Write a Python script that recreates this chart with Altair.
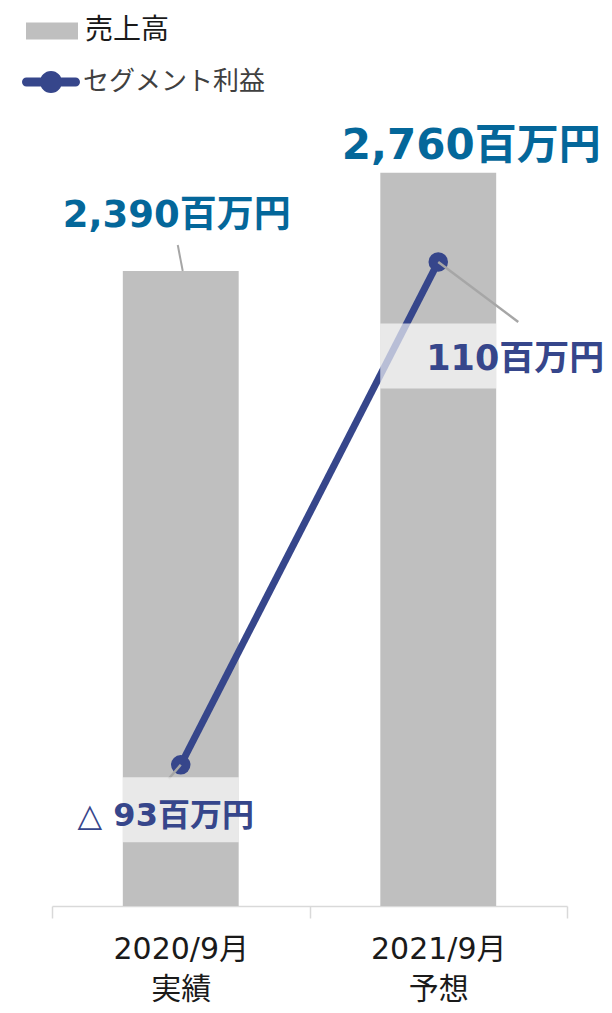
import altair as alt
import pandas as pd

categories = ["2020/9月\n実績", "2021/9月\n予想"]
sales = [2390, 2760]
profit = [-93, 110]
sales_name = "売上高"
profit_name = "セグメント利益"

df = pd.DataFrame({
    "cat": categories,
    "sales": sales,
    "profit": profit,
    "s1": [sales_name] * 2,
    "s2": [profit_name] * 2,
})

LATIN_JP = "DejaVu Sans, Noto Sans CJK JP"
JP = "Noto Sans CJK JP"
BAR_C = "#bfbfbf"
LINE_C = "#36468b"
SALES_TXT = "#04679a"

xenc = alt.X(
    "cat:N", sort=categories,
    scale=alt.Scale(paddingInner=0, paddingOuter=0),
    axis=alt.Axis(
        title=None, labelAngle=0, labelFont=LATIN_JP, labelFontSize=30,
        labelColor="#1a1a1a", labelLineHeight=40, labelPadding=16,
        labelExpr="split(datum.label, '\\n')",
        domainColor="#d9d9d9", domainWidth=1.5, tickColor="#d9d9d9",
        tickWidth=1.5, tickSize=12, tickBand="extent",
    ),
)
ys = alt.Scale(domain=[0, 3000], nice=False, zero=True)
yp = alt.Scale(domain=[-150, 171.75], nice=False, zero=False)

base = alt.Chart(df)

bar_path = "M-2,-0.654H2V0.654H-2Z"
line_path = ("M-1.69,-0.31H1.69A0.31,0.31 0 0,1 1.69,0.31H-1.69"
             "A0.31,0.31 0 0,1 -1.69,-0.31Z"
             "M-0.76,0A0.76,0.76 0 1,1 0.76,0A0.76,0.76 0 1,1 -0.76,0Z")

bars = base.mark_bar(width=alt.RelativeBandSize(0.45)).encode(
    x=xenc,
    y=alt.Y("sales:Q", scale=ys, axis=None),
    color=alt.Color("s1:N", scale=alt.Scale(domain=[sales_name], range=[BAR_C]),
                    legend=alt.Legend(orient="none", legendX=-14, legendY=-92,
                                      title=None, symbolType=bar_path, symbolSize=676,
                                      symbolStrokeWidth=0, labelFont=JP,
                                      labelFontSize=28, labelColor="#1a1a1a",
                                      labelOffset=19, labelLimit=400, padding=0)),
)

bar_leader = base.transform_filter(alt.datum.sales == sales[0]).mark_rule(
    color="#a6a6a6", strokeWidth=2, xOffset=-3, yOffset=-26, x2Offset=2, y2Offset=0
).encode(
    x=alt.X("cat:N", sort=categories, bandPosition=0.5),
    x2=alt.X2("cat:N", bandPosition=0.5),
    y=alt.Y("sales:Q", scale=ys, axis=None),
    y2="sales:Q",
)

line = base.mark_line(color=LINE_C, strokeWidth=7).encode(
    x=alt.X("cat:N", sort=categories),
    y=alt.Y("profit:Q", scale=yp, axis=None),
)

points = base.mark_circle(size=380, opacity=1).encode(
    x=alt.X("cat:N", sort=categories),
    y=alt.Y("profit:Q", scale=yp, axis=None),
    color=alt.Color("s2:N", scale=alt.Scale(domain=[profit_name], range=[LINE_C]),
                    legend=alt.Legend(orient="none", legendX=-15.5, legendY=-41.5,
                                      title=None, symbolType=line_path, symbolSize=841,
                                      symbolStrokeWidth=0, labelFont=JP,
                                      labelFontSize=26, labelColor="#404040",
                                      labelOffset=17.5, labelLimit=400, padding=0)),
)


def leader(i, dx1, dy1, dx2, dy2):
    return base.transform_filter(alt.datum.profit == profit[i]).mark_rule(
        color="#a6a6a6", strokeWidth=2.5, xOffset=dx1, yOffset=dy1,
        x2Offset=dx2, y2Offset=dy2,
    ).encode(
        x=alt.X("cat:N", sort=categories, bandPosition=0.5),
        x2=alt.X2("cat:N", bandPosition=0.5),
        y=alt.Y("profit:Q", scale=yp, axis=None),
        y2="profit:Q",
    )


def box(i, off):
    return base.transform_filter(alt.datum.profit == profit[i]).mark_tick(
        color="white", opacity=0.65, thickness=65, size=116, yOffset=off,
    ).encode(
        x=alt.X("cat:N", sort=categories),
        y=alt.Y("profit:Q", scale=yp, axis=None),
    )


def sales_label(i, fs, dx, dy):
    return base.transform_filter(alt.datum.sales == sales[i]).transform_calculate(
        lab="format(datum.sales, ',') + '百万円'"
    ).mark_text(font=LATIN_JP, fontWeight="bold", fontSize=fs, color=SALES_TXT,
                dx=dx, dy=dy, baseline="middle", align="center").encode(
        x=alt.X("cat:N", sort=categories),
        y=alt.Y("sales:Q", scale=ys, axis=None),
        text="lab:N",
    )


def profit_label(i, fs, dx, dy):
    return base.transform_filter(alt.datum.profit == profit[i]).transform_calculate(
        lab="(datum.profit < 0 ? '△ ' : '') + format(abs(datum.profit), ',') + '百万円'"
    ).mark_text(font=LATIN_JP, fontWeight="bold", fontSize=fs, color=LINE_C,
                dx=dx, dy=dy, baseline="middle", align="center").encode(
        x=alt.X("cat:N", sort=categories),
        y=alt.Y("profit:Q", scale=yp, axis=None),
        text="lab:N",
    )


chart = alt.layer(
    bars, bar_leader, line, points,
    leader(0, 0, 0, -12, 14), leader(1, 0, 0, 80, 60),
    box(0, 45), box(1, 94),
    sales_label(0, 37, -4, -55), sales_label(1, 42, 33, -27),
    profit_label(0, 32, -15, 51), profit_label(1, 35, 77, 97),
).resolve_scale(
    y="independent", color="independent"
).properties(
    width=515, height=797, autosize="none",
    padding={"left": 44, "top": 101, "right": 37, "bottom": 99},
).configure_view(stroke=None)

chart.save("out.html", embed_options={"renderer": "svg", "actions": False})
